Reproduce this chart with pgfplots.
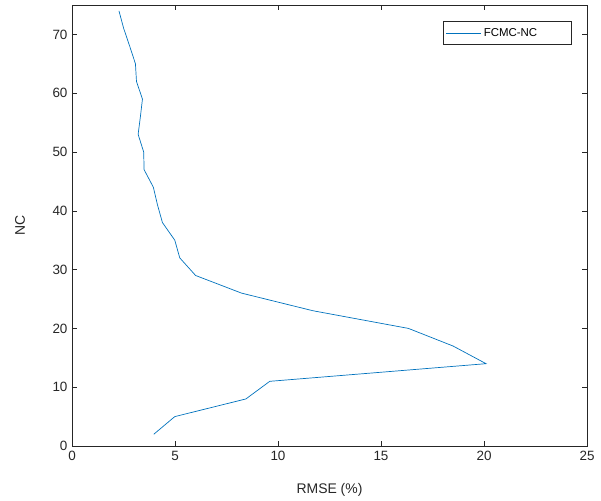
\documentclass[border=0pt]{standalone}
\usepackage{pgfplots}
\pgfplotsset{compat=1.18}
\usepackage{fontspec}
\setmainfont{Liberation Sans}
\definecolor{mblue}{rgb}{0,0.447,0.741}
\definecolor{axgray}{rgb}{0.15,0.15,0.15}
\begin{document}
\begin{tikzpicture}
\useasboundingbox (-72bp,-55bp) rectangle (529bp,446bp);
\begin{axis}[scale only axis,width=515bp,height=441bp,
  xmin=0,xmax=25,ymin=0,ymax=75,
  xtick={0,5,...,25},ytick={0,10,...,70},
  tick align=inside,major tick length=5bp,
  axis line style={axgray},tick style={axgray,line width=0.5pt},
  every tick label/.style={font=\fontsize{13.5}{15}\selectfont,text=axgray},
  /pgf/number format/assume math mode=true,
  xticklabel style={yshift=-2bp},
  yticklabel style={xshift=-1bp},
  xlabel={RMSE (\%)},ylabel={NC},
  label style={font=\fontsize{14}{16}\selectfont,text=axgray},
  xlabel style={at={(axis description cs:0.5,-0.1)},anchor=center},
  ylabel style={at={(axis description cs:-0.101,0.5)},anchor=center},
  legend style={at={(0.969,0.964)},anchor=north east,draw=axgray,line width=0.5pt,
    font=\fontsize{11.5}{13}\selectfont,inner xsep=3bp,inner ysep=5bp,
    legend cell align=left},
  legend image post style={line width=0.7pt},
  legend image code/.code={\draw[#1] (0cm,0cm) -- (0.49in,0cm);},
]
\addplot[mblue,line width=0.7pt] table {
x y
3.97 2
4.99 5
8.44 8
9.6 11
20.1 14
18.5 17
16.33 20
11.7 23
8.23 26
6.0 29
5.23 32
4.99 35
4.39 38
4.15 41
3.95 44
3.5 47
3.48 50
3.21 53
3.32 56
3.42 59
3.13 62
3.08 65
2.8 68
2.51 71
2.28 74
};
\addlegendentry{\makebox[82bp][l]{FCMC-NC}}
\end{axis}
\end{tikzpicture}
\end{document}
